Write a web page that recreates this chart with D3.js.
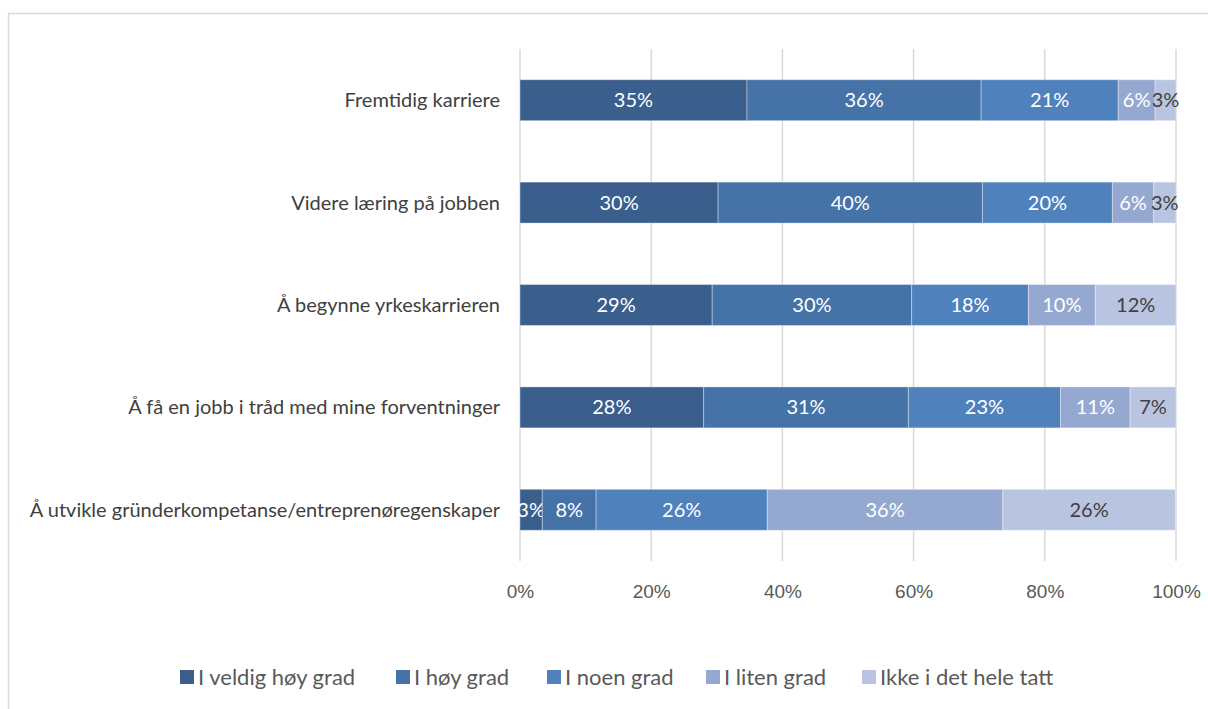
<!DOCTYPE html>
<html>
  <head>
    <meta charset='utf-8' />
    <title>Stacked Bar</title>
    <style>
      body { margin: 0; background: #fff; }
      svg { display: block; font-family: Lato, "Open Sans", sans-serif; }
      .catLabel { font-size: 20px; fill: #404040; }
      .tick text { font-size: 19px; fill: #595959; }
      .barLabel { font-size: 20px; }
      .legendText { font-size: 22px; fill: #595959; }
    </style>
  </head>
<body>
  <svg id="chart" width="1208" height="709"></svg>

  <script src="https://d3js.org/d3.v7.min.js"></script>
  <script>
    // data
    const categories = [
      "Fremtidig karriere",
      "Videre læring på jobben",
      "Å begynne yrkeskarrieren",
      "Å få en jobb i tråd med mine forventninger",
      "Å utvikle gründerkompetanse/entreprenøregenskaper"
    ];
    const seriesNames = ["I veldig høy grad", "I høy grad", "I noen grad", "I liten grad", "Ikke i det hele tatt"];
    const veldigHoy = [34.6, 30.2, 29.3, 28.0, 3.4];
    const hoy       = [35.7, 40.3, 30.4, 31.2, 8.2];
    const noen      = [20.9, 19.8, 17.8, 23.2, 26.1];
    const liten     = [5.6, 6.3, 10.2, 10.6, 35.9];
    const ikke      = [3.2, 3.4, 12.3, 7.0, 26.3];
    const xTicks = [0, 20, 40, 60, 80, 100];

    const colors = ["#3a5f8d", "#4573a7", "#4f81bd", "#95a8d0", "#b9c5e0"];
    const labelColors = ["#ffffff", "#ffffff", "#ffffff", "#ffffff", "#404040"];

    const allSeries = [veldigHoy, hoy, noen, liten, ikke];
    const rows = categories.map((c, i) => {
      const r = { cat: c };
      seriesNames.forEach((s, j) => r[s] = allSeries[j][i]);
      return r;
    });

    const svg = d3.select("#chart");

    // chart area border (runs off the right and bottom edges)
    svg.append("rect")
      .attr("x", 8.5).attr("y", 13.5)
      .attr("width", 1400).attr("height", 900)
      .attr("fill", "none")
      .attr("stroke", "#d9d9d9")
      .attr("stroke-width", 1.5);

    const plotLeft = 520, plotRight = 1176, plotTop = 49, plotBottom = 561;

    const x = d3.scaleLinear().domain([0, 100]).range([plotLeft, plotRight]);
    const y = d3.scaleBand().domain(categories).range([plotTop, plotBottom]).paddingInner(0.6).paddingOuter(0.3);

    // gridlines
    svg.append("g").selectAll("line")
      .data(xTicks)
      .join("line")
      .attr("x1", d => x(d)).attr("x2", d => x(d))
      .attr("y1", plotTop).attr("y2", plotBottom)
      .attr("stroke", "#d9d9d9")
      .attr("stroke-width", 1.5);

    // x axis labels
    const xAxis = d3.axisBottom(x).tickValues(xTicks).tickFormat(d => d + "%").tickSize(0).tickPadding(14);
    svg.append("g")
      .attr("transform", "translate(0," + (plotBottom + 10) + ")")
      .call(xAxis)
      .call(g => g.select(".domain").remove());

    // category labels
    svg.append("g").selectAll("text")
      .data(categories)
      .join("text")
      .attr("class", "catLabel")
      .attr("x", plotLeft - 20)
      .attr("y", d => y(d) + y.bandwidth() / 2)
      .attr("dy", "0.35em")
      .attr("text-anchor", "end")
      .text(d => d);

    const stacked = d3.stack().keys(seriesNames)(rows);

    const layer = svg.append("g").selectAll("g")
      .data(stacked)
      .join("g")
      .attr("fill", (d, i) => colors[i]);

    layer.selectAll("rect")
      .data(d => d)
      .join("rect")
      .attr("x", d => x(d[0]))
      .attr("y", d => y(d.data.cat))
      .attr("width", d => x(d[1]) - x(d[0]))
      .attr("height", y.bandwidth())
      .attr("stroke", "#ffffff")
      .attr("stroke-opacity", 0.35)
      .attr("stroke-width", 1);

    layer.selectAll("text")
      .data((d, i) => d.map(v => ({ v: v, i: i })))
      .join("text")
      .attr("class", "barLabel")
      .attr("x", d => (x(d.v[0]) + x(d.v[1])) / 2)
      .attr("y", d => y(d.v.data.cat) + y.bandwidth() / 2)
      .attr("dy", "0.35em")
      .attr("text-anchor", "middle")
      .attr("fill", d => labelColors[d.i])
      .text(d => Math.round(d.v[1] - d.v[0]) + "%");

    // legend
    const legendX = [180, 396, 547, 706, 862];
    const legend = svg.append("g").selectAll("g")
      .data(seriesNames)
      .join("g")
      .attr("transform", (d, i) => "translate(" + legendX[i] + ",670)");
    legend.append("rect")
      .attr("width", 14).attr("height", 14)
      .attr("fill", (d, i) => colors[i]);
    legend.append("text")
      .attr("class", "legendText")
      .attr("x", 18).attr("y", 7)
      .attr("dy", "0.35em")
      .text(d => d);
  </script>
</body>
</html>
